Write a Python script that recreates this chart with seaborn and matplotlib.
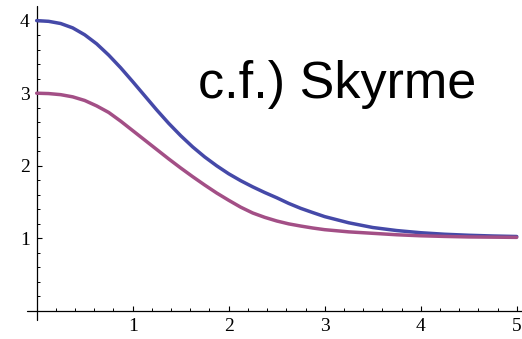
import numpy as np
import pandas as pd
import matplotlib
matplotlib.use("Agg")
import matplotlib.pyplot as plt
from matplotlib.ticker import FixedLocator
import seaborn as sns

# Profile values along r (finer steps where the curves bend most)
r = [0.0, 0.125, 0.25, 0.375, 0.5, 0.625, 0.75, 0.875, 1.0, 1.125, 1.25,
     1.375, 1.5, 1.625, 1.75, 1.875, 2.0, 2.125, 2.25, 2.375, 2.5, 2.625,
     2.75, 2.875, 3.0, 3.25, 3.5, 3.75, 4.0, 4.25, 4.5, 4.75, 5.0]
upper = [4.0, 3.99, 3.96, 3.90, 3.805, 3.68, 3.525, 3.35, 3.16, 2.965, 2.77,
         2.585, 2.415, 2.26, 2.122, 2.0, 1.89, 1.795, 1.71, 1.632, 1.56, 1.482,
         1.414, 1.356, 1.30, 1.215, 1.15, 1.108, 1.078, 1.057, 1.043, 1.033,
         1.026]
lower = [3.0, 2.995, 2.98, 2.95, 2.90, 2.825, 2.735, 2.615, 2.485, 2.355,
         2.225, 2.095, 1.97, 1.85, 1.735, 1.625, 1.525, 1.43, 1.35, 1.29, 1.24,
         1.20, 1.17, 1.143, 1.12, 1.09, 1.07, 1.05, 1.036, 1.027, 1.02, 1.017,
         1.014]
x_ticks = [1, 2, 3, 4, 5]
y_ticks = [1, 2, 3, 4]
annotation = "c.f.) Skyrme"

df = pd.concat([
    pd.DataFrame({"r": r, "value": upper, "curve": "upper"}),
    pd.DataFrame({"r": r, "value": lower, "curve": "lower"}),
])

sns.set_style("white")
serif = ["Liberation Serif", "DejaVu Serif"]
plt.rcParams["font.family"] = serif

fig = plt.figure(figsize=(5.22, 3.39), dpi=100)
ax = fig.add_axes([0, 0, 1, 1])

sns.lineplot(data=df, x="r", y="value", hue="curve",
             palette=["#4549a8", "#a34f86"], linewidth=2.5,
             legend=False, ax=ax, zorder=3)

ax.set_xlim(-0.382, 5.055)
ax.set_ylim(-0.386, 4.284)

# axes crossing at the origin, drawn as plain lines
for side in ("top", "right", "left", "bottom"):
    ax.spines[side].set_visible(False)
ax.spines["left"].set_position(("data", 0))
ax.spines["bottom"].set_position(("data", 0))
ax.plot([-0.1, 5.055], [0, 0], color="black", lw=0.9, clip_on=False, zorder=2)
ax.plot([0, 0], [-0.12, 4.2], color="black", lw=0.9, clip_on=False, zorder=2)

ax.xaxis.set_major_locator(FixedLocator(x_ticks))
ax.yaxis.set_major_locator(FixedLocator(y_ticks))
ax.xaxis.set_minor_locator(FixedLocator(np.round(np.arange(0.2, 5.01, 0.2), 2)))
ax.yaxis.set_minor_locator(FixedLocator(np.round(np.arange(0.2, 4.11, 0.2), 2)))
ax.set_xticklabels([str(v) for v in x_ticks])
ax.set_yticklabels([str(v) for v in y_ticks])
ax.tick_params(which="major", direction="in", length=3.5, width=0.8,
               color="black", labelcolor="black", labelsize=14, pad=5)
ax.tick_params(which="minor", direction="in", length=2.0, width=0.7,
               color="black")
ax.tick_params(axis="y", which="both", left=True)
ax.tick_params(axis="x", which="both", bottom=True)
for lbl in ax.get_xticklabels() + ax.get_yticklabels():
    lbl.set_fontfamily(serif)
ax.set_xlabel("")
ax.set_ylabel("")
ax.grid(False)

fig.text(198 / 522, 1 - 98 / 339, annotation, fontsize=37.5, color="black",
         family=["Liberation Sans", "DejaVu Sans"], va="baseline", ha="left")

fig.savefig("out.png", dpi=100)
